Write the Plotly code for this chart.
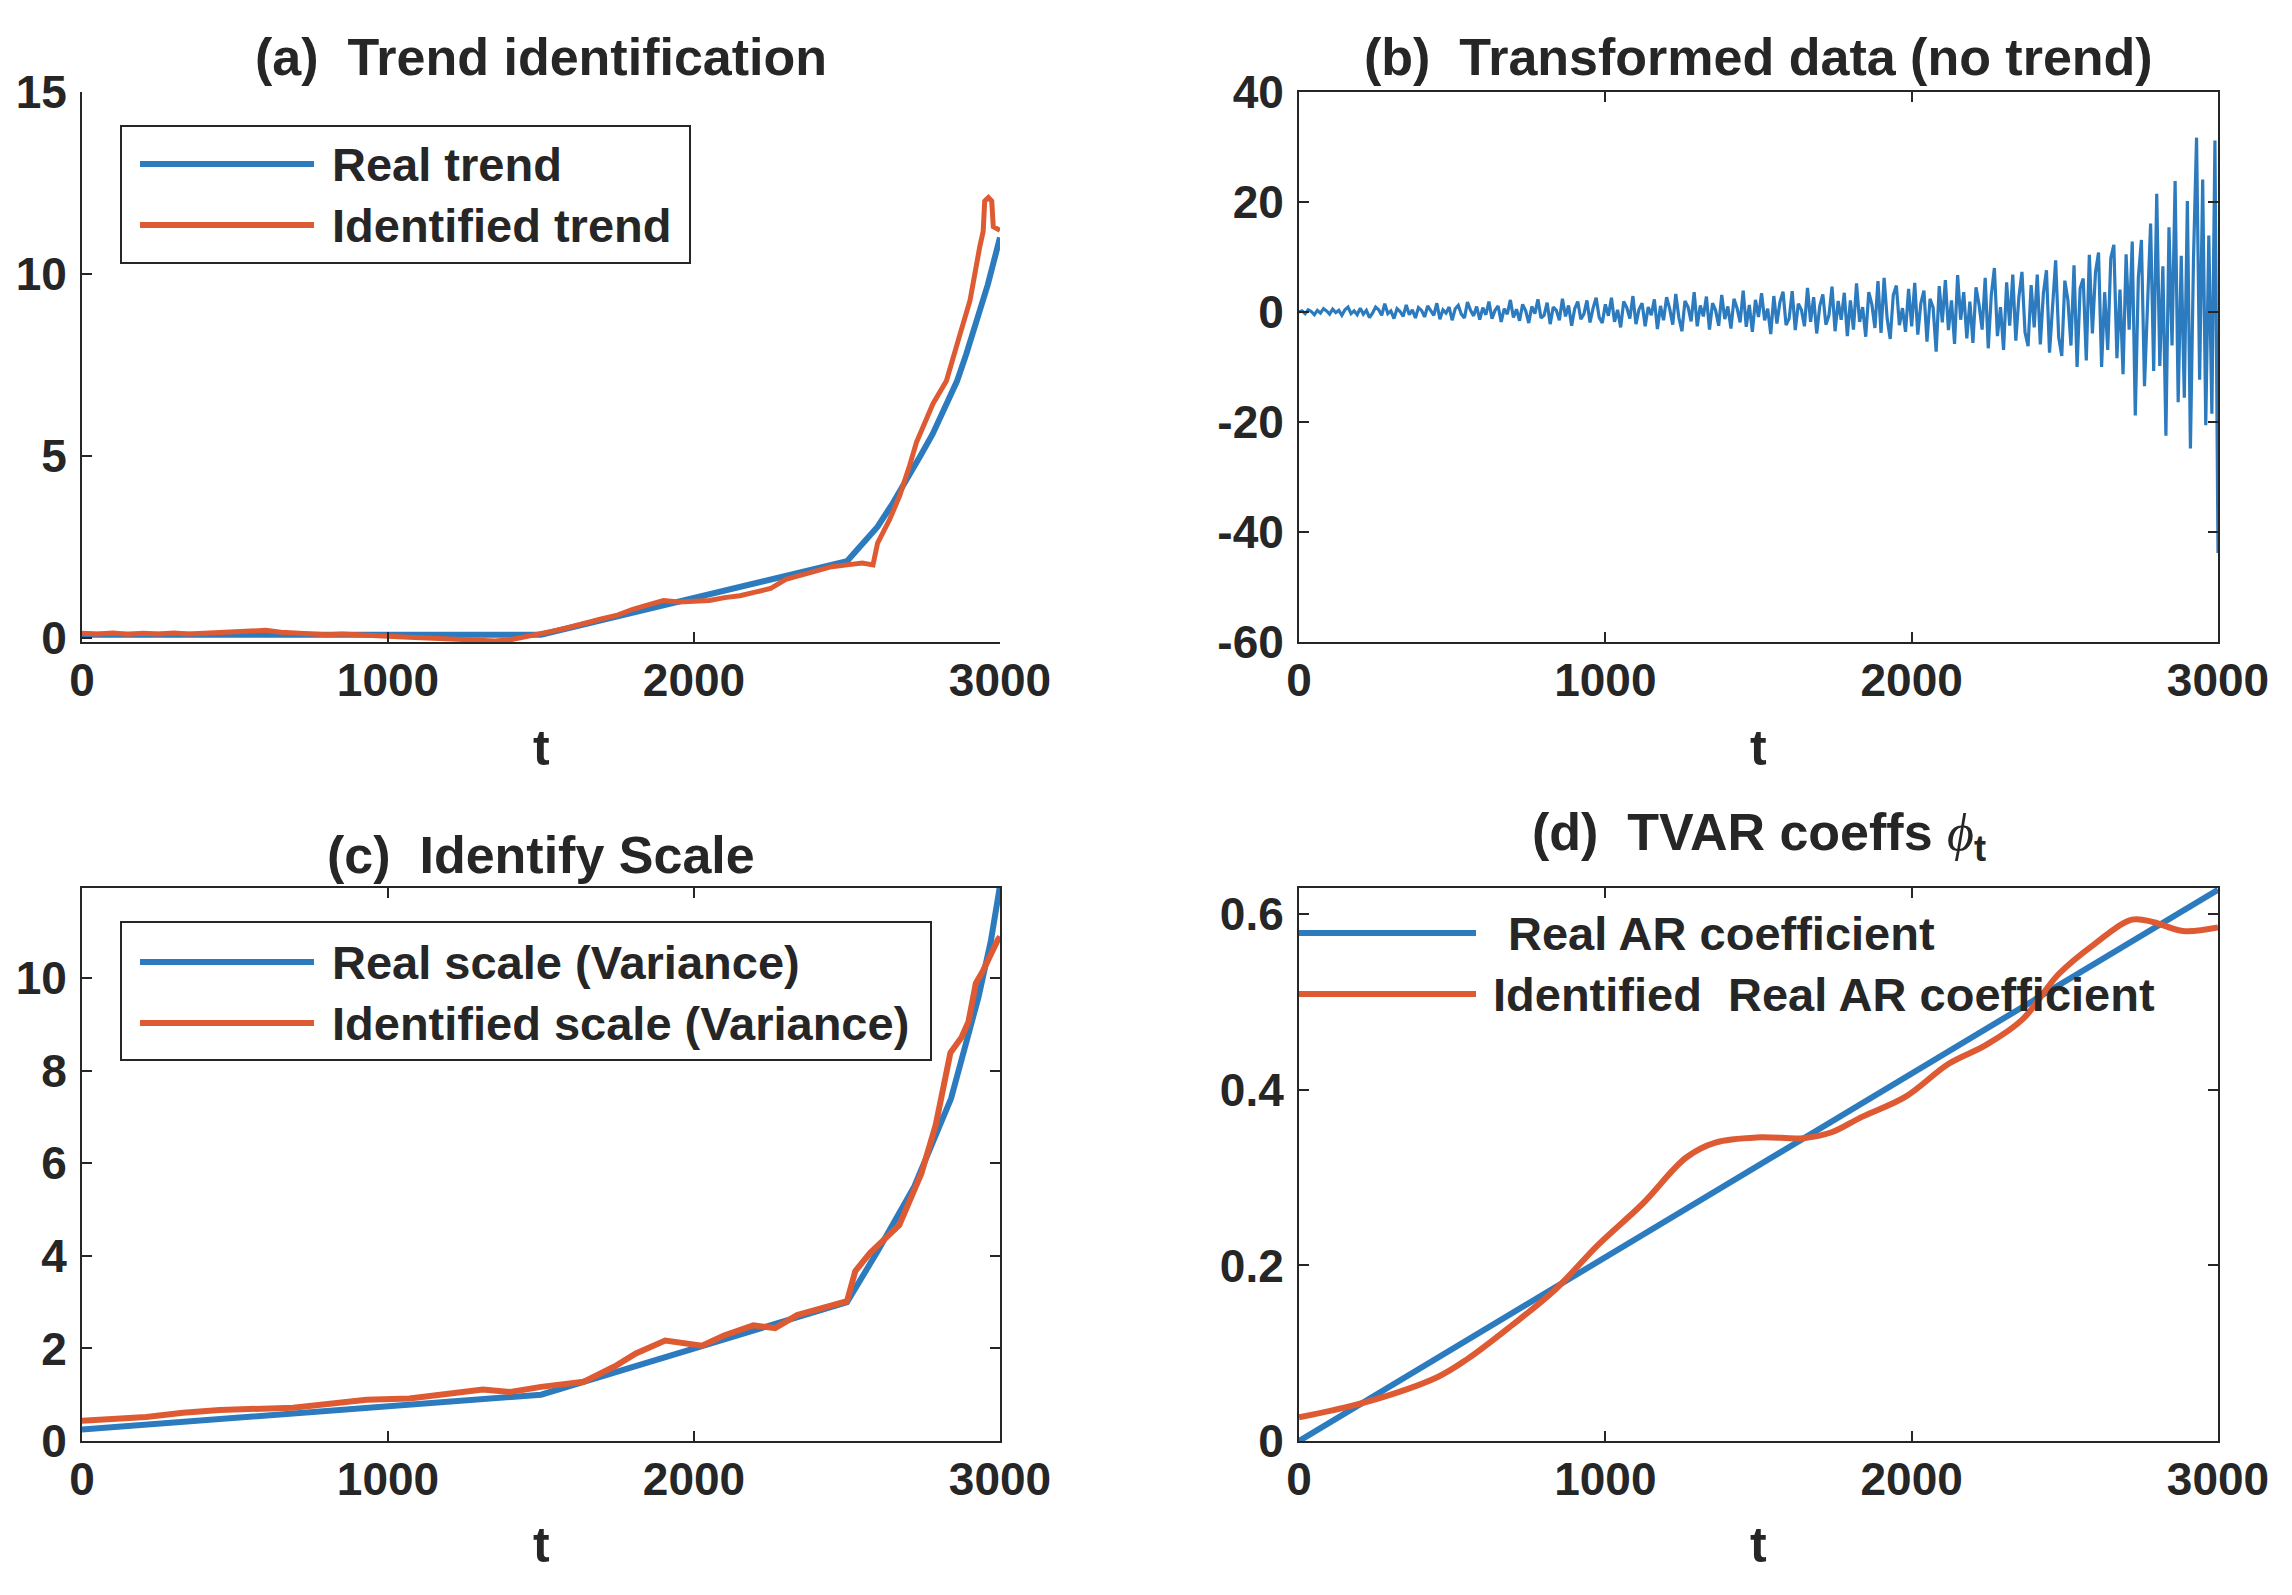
import plotly.graph_objects as go

W, H = 2292, 1595
FONT = "Liberation Sans, Arial, Helvetica, sans-serif"
TXT = "#262626"
BLUE = "#2C7BBF"
ORANGE = "#DE5A33"

# ---------------- data ----------------
# (a) Trend identification
t_real_trend = [0, 1500, 2500, 2550, 2600, 2650, 2700, 2740, 2780, 2820, 2860, 2890, 2920, 2960, 3000]
real_trend = [0.08, 0.08, 2.1, 2.55, 3.05, 3.7, 4.4, 5.0, 5.6, 6.3, 7.06, 7.8, 8.64, 9.7, 11.0]

t_ident_trend = [0, 50, 100, 150, 200, 250, 300, 350, 400, 450, 500, 550, 600, 650, 700, 750,
                 800, 850, 900, 950, 1000, 1050, 1100, 1150, 1200, 1250, 1300, 1350, 1400, 1450,
                 1500, 1550, 1600, 1650, 1700, 1750, 1800, 1850, 1900, 1950, 2000, 2050, 2100,
                 2150, 2200, 2250, 2300, 2350, 2400, 2450, 2500, 2550, 2585, 2600, 2640, 2672,
                 2705, 2727, 2781, 2825, 2869, 2902, 2934, 2945, 2950, 2962, 2973, 2978, 3000]
ident_trend = [0.12, 0.10, 0.13, 0.09, 0.12, 0.10, 0.13, 0.10, 0.12, 0.14, 0.13, 0.16, 0.20, 0.15,
               0.12, 0.10, 0.08, 0.10, 0.07, 0.05, 0.04, 0.02, 0.00, -0.02, -0.04, -0.06, -0.08,
               -0.09, -0.06, 0.02, 0.10, 0.20, 0.30, 0.42, 0.52, 0.62, 0.78, 0.90, 1.02, 0.98,
               1.00, 1.02, 1.10, 1.15, 1.25, 1.35, 1.60, 1.72, 1.85, 1.95, 2.00, 2.05, 2.00, 2.60,
               3.26, 3.90, 4.74, 5.37, 6.43, 7.06, 8.33, 9.27, 10.75, 11.17, 12.0, 12.1, 12.0,
               11.3, 11.2]

# (b) Transformed data (no trend), one value every 10 steps of t
transformed = [
    0.0, 0.2, -0.3, 0.4, 0.1, -0.5, 0.3, -0.2, 0.6, 0.2, -0.4, 0.5, -0.1, 0.3, -0.6, 0.4, 0.9, -0.3, 0.2, -0.5,
    0.7, -0.4, 0.3, -1.0, -0.2, 0.9, 0.4, -0.6, 1.5, -0.3, 0.2, -1.2, 0.6, 0.1, -0.8, 1.3, -0.5, 0.4, -1.1, 0.8,
    0.3, -0.9, 1.1, 0.2, -0.6, 1.6, -1.3, 0.4, -0.2, 0.9, -1.5, 0.6, 1.2, -0.4, -1.1, 1.8, 0.3, -0.7, 1.0, -1.4,
    0.8, -0.5, 1.9, -1.2, 0.3, 1.1, -1.8, 0.6, -0.4, 2.2, -1.0, 0.5, -1.6, 1.4, 0.2, -2.0, 1.0, -0.3, 2.3, -1.1,
    -0.6, 1.7, -2.2, 0.9, 0.3, -1.5, 2.4, -0.8, 1.2, -2.5, 0.6, 1.9, -1.3, -0.4, 2.1, -1.9, 0.7, 2.6, -1.0, -2.0,
    1.4, -0.7, 2.6, -1.8, 0.4, -2.8, 1.9, 0.8, -1.2, 2.9, -2.2, 0.5, 1.6, -2.6, 0.9, -0.6, 2.3, -3.1, 1.1, -1.5,
    2.7, 0.6, -2.3, 3.3, -1.0, -3.5, 2.0, 0.9, -1.7, 3.6, -2.6, 1.2, -0.8, 2.8, -3.2, 1.6, 0.3, -2.5, 3.1, -1.3,
    1.0, -3.0, 2.4, 0.7, -1.9, 3.9, -2.7, 1.3, -3.6, 2.2, -0.9, 3.4, -1.5, 0.6, -4.0, 2.9, -2.1, 1.8, 3.7, -2.4,
    -1.2, 3.8, -3.3, 1.5, 0.4, -2.6, 4.4, -1.8, 2.7, -3.9, 1.1, 3.2, -2.3, -0.6, 4.6, -3.5, 2.0, -1.4, 3.5, -4.4,
    2.1, -3.2, 5.2, -1.8, 0.9, -4.5, 3.6, 1.4, -2.9, 5.6, -3.8, 6.2, -1.2, -4.9, 3.1, 4.8, -2.4, 0.7, -3.6, 4.2,
    -2.6, 5.3, -4.1, 1.6, 3.9, -5.4, 2.4, 0.8, -7.2, 4.7, -1.9, 5.8, -3.3, 2.1, -5.8, 6.7, -1.4, 3.6, -4.8, 1.9,
    -5.6, 4.5, 1.3, -3.2, 6.2, -6.6, 3.1, 8.0, -4.4, 0.9, -6.9, 5.4, -2.5, 6.8, -5.2, 2.7, 7.3, -3.7, -6.2, 4.9,
    -2.8, 6.8, -5.9, 3.4, 7.6, -7.4, 1.8, 9.4, -4.6, -8.0, 5.7, 2.2, -6.1, 8.5, -10.0, 4.3, 6.1, -8.8, 10.4, -3.9,
    7.2, 10.8, -10.0, 3.6, -6.9, 9.8, 12.2, -8.4, 4.1, -11.3, 10.5, -3.2, 12.8, -18.8, 6.3, 13.1, -13.5, 2.8, 16.1, -10.7,
    21.5, -9.8, 8.3, -22.5, 15.4, -6.1, 23.8, -16.4, 10.2, -15.6, 20.2, -24.8, 9.6, 31.7, -12.3, 24.1, -20.6, 13.9, -18.5, 31.2,
    -43.8,
]
t_transformed = [10 * i for i in range(len(transformed))]

# (c) Identify Scale
t_real_scale = [0, 1500, 2500, 2600, 2720, 2840, 2930, 2970, 3000]
real_scale = [0.25, 1.0, 3.0, 4.1, 5.5, 7.4, 9.6, 10.8, 12.0]

t_ident_scale = [0, 210, 330, 450, 690, 810, 930, 1070, 1190, 1310, 1400, 1500, 1640, 1740, 1810,
                 1906, 2026, 2098, 2194, 2265, 2337, 2456, 2500, 2527, 2575, 2671, 2743, 2790, 2838,
                 2874, 2897, 2921, 2945, 2993, 3000]
ident_scale = [0.44, 0.52, 0.61, 0.67, 0.72, 0.81, 0.89, 0.92, 1.00, 1.11, 1.06, 1.17, 1.28, 1.61,
               1.89, 2.17, 2.06, 2.28, 2.50, 2.44, 2.72, 2.94, 3.02, 3.67, 4.06, 4.67, 5.78, 6.83,
               8.39, 8.72, 9.06, 9.89, 10.17, 10.83, 10.9]

# (d) TVAR coeffs
t_real_ar = [0, 3000]
real_ar = [0.0, 0.628]

t_ident_ar = [0, 215, 453, 548, 692, 835, 978, 1121, 1264, 1359, 1503, 1646, 1741, 1836, 1979,
              2122, 2242, 2361, 2480, 2600, 2719, 2790, 2886, 3000]
ident_ar = [0.027, 0.044, 0.073, 0.093, 0.131, 0.172, 0.224, 0.270, 0.323, 0.340, 0.346, 0.345,
            0.352, 0.369, 0.392, 0.430, 0.451, 0.480, 0.532, 0.567, 0.594, 0.591, 0.581, 0.585]

x_ticks = [0, 1000, 2000, 3000]
x_ticktext = ["0", "1000", "2000", "3000"]
a_yticks, a_yticktext = [0, 5, 10, 15], ["0", "5", "10", "15"]
b_yticks, b_yticktext = [-60, -40, -20, 0, 20, 40], ["-60", "-40", "-20", "0", "20", "40"]
c_yticks, c_yticktext = [0, 2, 4, 6, 8, 10], ["0", "2", "4", "6", "8", "10"]
d_yticks, d_yticktext = [0, 0.2, 0.4, 0.6], ["0", "0.2", "0.4", "0.6"]

titles = ["(a)  Trend identification", "(b)  Transformed data (no trend)",
          "(c)  Identify Scale",
          "(d)  TVAR coeffs <span style='font-family:Liberation Serif, DejaVu Serif, serif;"
          "font-weight:normal'><i>ϕ</i></span><sub>t</sub>"]

# ---------------- layout helpers (pixel -> paper) ----------------
OFF = 8  # page body margin in the browser


def PX(x):
    return (x - OFF) / W


def PY(y):
    return 1 - (y - OFF) / H


COL_L = (82, 1000)
COL_R = (1299, 2218)
ROW_T = (92, 642)
ROW_B = (888, 1441)

fig = go.Figure()

fig.add_trace(go.Scatter(x=t_real_trend, y=real_trend, mode="lines",
                         line=dict(color=BLUE, width=6), xaxis="x", yaxis="y"))
fig.add_trace(go.Scatter(x=t_ident_trend, y=ident_trend, mode="lines",
                         line=dict(color=ORANGE, width=5), xaxis="x", yaxis="y"))
fig.add_trace(go.Scatter(x=t_transformed, y=transformed, mode="lines",
                         line=dict(color=BLUE, width=3.2), xaxis="x2", yaxis="y2"))
fig.add_trace(go.Scatter(x=t_real_scale, y=real_scale, mode="lines",
                         line=dict(color=BLUE, width=6), xaxis="x3", yaxis="y3"))
fig.add_trace(go.Scatter(x=t_ident_scale, y=ident_scale, mode="lines",
                         line=dict(color=ORANGE, width=6), xaxis="x3", yaxis="y3"))
fig.add_trace(go.Scatter(x=t_real_ar, y=real_ar, mode="lines",
                         line=dict(color=BLUE, width=6), xaxis="x4", yaxis="y4"))
fig.add_trace(go.Scatter(x=t_ident_ar, y=ident_ar, mode="lines", line_shape="spline",
                         line=dict(color=ORANGE, width=6), xaxis="x4", yaxis="y4"))

tickfont = dict(family=FONT, size=46, color=TXT, weight="bold")


def axis(domain, rng, tv, tt, anchor, mirror, standoff):
    return dict(domain=domain, range=rng, tickvals=tv, ticktext=tt, anchor=anchor,
                showline=True, linecolor=TXT, linewidth=2, mirror=mirror,
                ticks="inside", ticklen=10, tickwidth=2, tickcolor=TXT,
                showgrid=False, zeroline=False, tickfont=tickfont,
                ticklabelstandoff=standoff, fixedrange=True, automargin=False)


xl = [PX(COL_L[0]), PX(COL_L[1])]
xr = [PX(COL_R[0]), PX(COL_R[1])]
yt = [PY(ROW_T[1]), PY(ROW_T[0])]
yb = [PY(ROW_B[1]), PY(ROW_B[0])]

XS, YS = -3, 4
fig.update_layout(
    width=W, height=H,
    margin=dict(l=0, r=0, t=0, b=0, autoexpand=False),
    paper_bgcolor="white", plot_bgcolor="white",
    showlegend=False,
    xaxis=axis(xl, [0, 3000], x_ticks, x_ticktext, "y", False, XS),
    yaxis=axis(yt, [-0.12, 15], a_yticks, a_yticktext, "x", False, YS),
    xaxis2=axis(xr, [0, 3000], x_ticks, x_ticktext, "y2", "ticks", XS),
    yaxis2=axis(yt, [-60, 40], b_yticks, b_yticktext, "x2", "ticks", YS),
    xaxis3=axis(xl, [0, 3000], x_ticks, x_ticktext, "y3", "ticks", XS),
    yaxis3=axis(yb, [0, 11.95], c_yticks, c_yticktext, "x3", "ticks", YS),
    xaxis4=axis(xr, [0, 3000], x_ticks, x_ticktext, "y4", "ticks", XS),
    yaxis4=axis(yb, [0, 0.63], d_yticks, d_yticktext, "x4", "ticks", YS),
)

ann = []
shapes = []

# titles
title_pos = [((COL_L[0] + COL_L[1]) / 2, 57), ((COL_R[0] + COL_R[1]) / 2, 57),
             ((COL_L[0] + COL_L[1]) / 2, 855), ((COL_R[0] + COL_R[1]) / 2, 836)]
for text, (cx, cy) in zip(titles, title_pos):
    ann.append(dict(x=PX(cx), y=PY(cy), xref="paper", yref="paper", text=text,
                    showarrow=False, xanchor="center", yanchor="middle",
                    font=dict(family=FONT, size=52, color=TXT, weight="bold")))

# x-axis labels "t"
for cx, cy in [((COL_L[0] + COL_L[1]) / 2, 748), ((COL_R[0] + COL_R[1]) / 2, 748),
               ((COL_L[0] + COL_L[1]) / 2, 1545), ((COL_R[0] + COL_R[1]) / 2, 1545)]:
    ann.append(dict(x=PX(cx), y=PY(cy), xref="paper", yref="paper", text="t",
                    showarrow=False, xanchor="center", yanchor="middle",
                    font=dict(family=FONT, size=50, color=TXT, weight="bold")))

legfont = dict(family=FONT, size=47, color=TXT, weight="bold")


def legend(box, items, line_x, text_x):
    if box is not None:
        x0, y0, x1, y1 = box
        shapes.append(dict(type="rect", xref="paper", yref="paper",
                           x0=PX(x0), x1=PX(x1), y0=PY(y1), y1=PY(y0),
                           line=dict(color=TXT, width=2), fillcolor="white", layer="above"))
    for (label, color, ly), tx in zip(items, text_x):
        shapes.append(dict(type="line", xref="paper", yref="paper",
                           x0=PX(line_x[0]), x1=PX(line_x[1]), y0=PY(ly), y1=PY(ly),
                           line=dict(color=color, width=6), layer="above"))
        ann.append(dict(x=PX(tx), y=PY(ly), xref="paper", yref="paper", text=label,
                        showarrow=False, xanchor="left", yanchor="middle", font=legfont))


legend((121, 126, 690, 263),
       [("Real trend", BLUE, 164), ("Identified trend", ORANGE, 225)],
       (140, 314), [330, 330])
legend((121, 922, 931, 1060),
       [("Real scale (Variance)", BLUE, 962), ("Identified scale (Variance)", ORANGE, 1023)],
       (140, 314), [330, 330])
legend(None,
       [("Real AR coefficient", BLUE, 933), ("Identified  Real AR coefficient", ORANGE, 994)],
       (1299, 1476), [1506, 1491])

fig.update_layout(annotations=ann, shapes=shapes)

fig.write_html("out.html", config={"displayModeBar": False})
